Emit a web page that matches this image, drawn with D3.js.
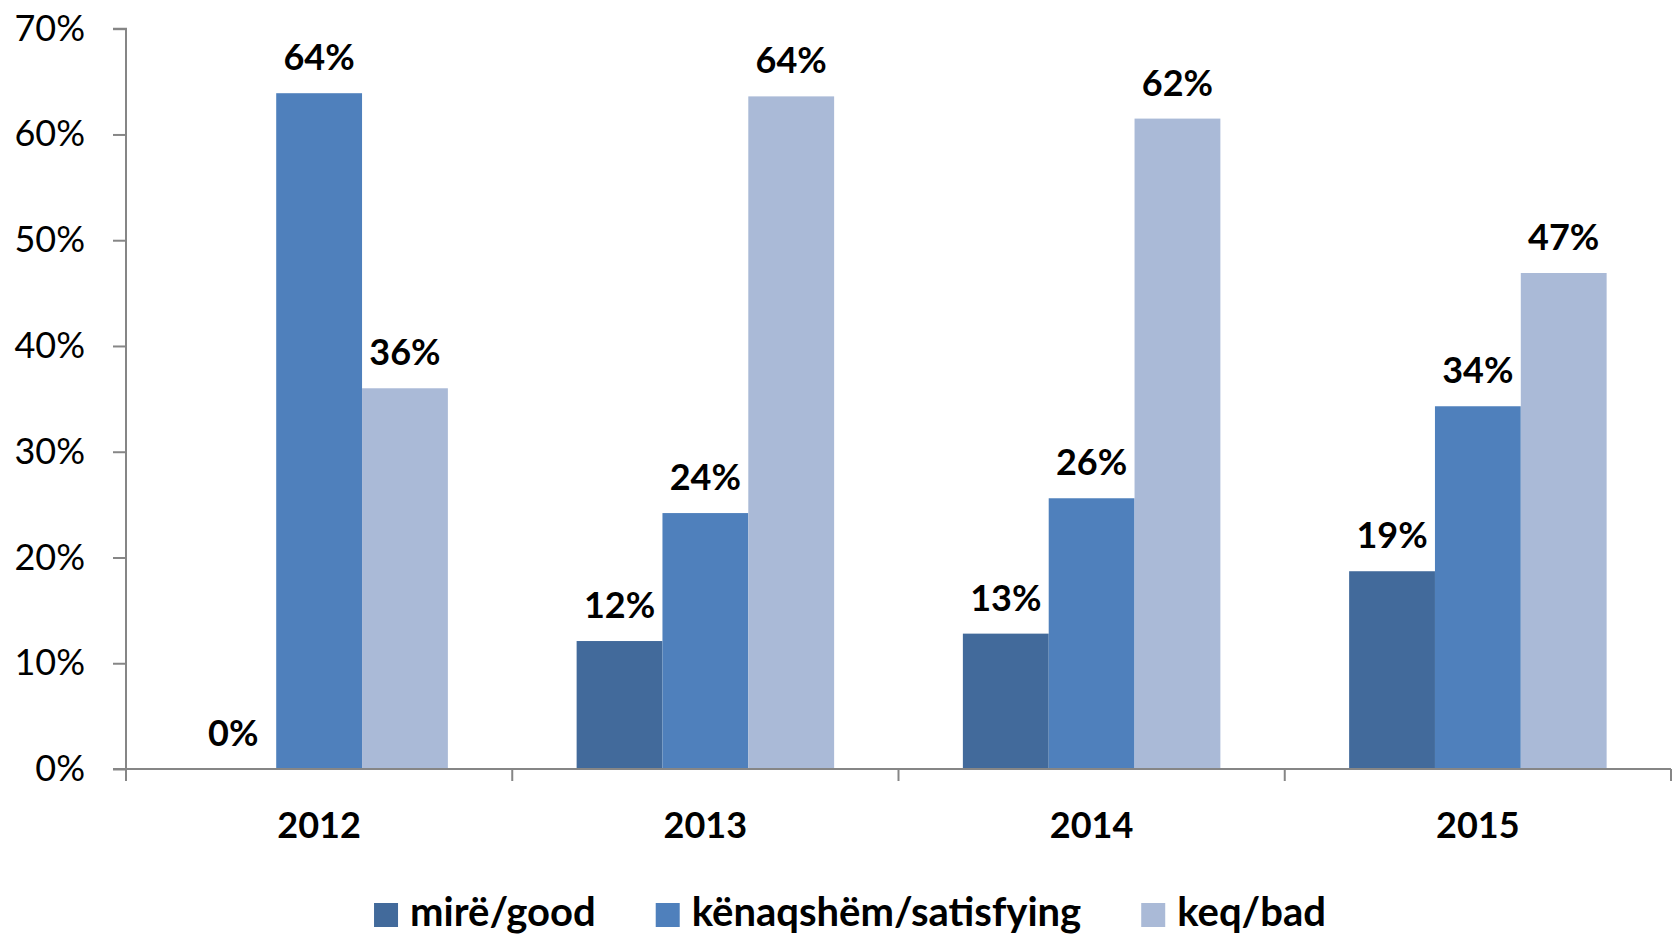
<!DOCTYPE html>
<html>
<head>
<meta charset="utf-8">
<script src="https://cdn.jsdelivr.net/npm/d3@7"></script>
<style>
  html, body { margin: 0; padding: 0; background: #fff; }
  svg { display: block; }
  text { font-family: Lato, "Open Sans", sans-serif; fill: #000; }
</style>
</head>
<body>
<svg id="chart" width="1674" height="935"></svg>
<script>
const categories = ["2012", "2013", "2014", "2015"];
const seriesNames = ["mirë/good", "kënaqshëm/satisfying", "keq/bad"];
const good = [0.0, 0.121, 0.128, 0.187];
const satisfying = [0.639, 0.242, 0.256, 0.343];
const bad = [0.360, 0.636, 0.615, 0.469];
const yTicks = [0, 0.1, 0.2, 0.3, 0.4, 0.5, 0.6, 0.7];
const colors = ["#426A9B", "#4F80BC", "#AABAD7"];

const seriesValues = [good, satisfying, bad];

const x0 = 126, x1end = 1671, yTop = 28.7, yBottom = 769;

const svg = d3.select("#chart");

const x = d3.scaleBand().domain(categories).range([x0, x1end]).padding(0);
const step = x.bandwidth();
const bw = step / 4.5;
const xs = d3.scaleBand().domain(seriesNames).range([bw * 0.75, step - bw * 0.75]).padding(0);
const y = d3.scaleLinear().domain([0, 0.7]).range([yBottom, yTop]);
const color = d3.scaleOrdinal().domain(seriesNames).range(colors);
const pct = d3.format(".0%");

// Y axis
const yAxis = svg.append("g")
  .attr("transform", `translate(${x0},0)`)
  .call(d3.axisLeft(y).tickValues(yTicks).tickFormat(pct).tickSize(13).tickPadding(28));
yAxis.select(".domain").attr("stroke", "#868686").attr("stroke-width", 2).attr("d", `M-13,${yTop}H0V${yBottom}`);
yAxis.selectAll(".tick line").attr("stroke", "#868686").attr("stroke-width", 2);
yAxis.selectAll(".tick text").attr("font-family", "Lato, sans-serif").attr("font-size", 36).attr("fill", "#000");

// X axis
const xAxisG = svg.append("g").attr("transform", `translate(0,${yBottom})`);
xAxisG.append("line").attr("x1", x0 - 13).attr("x2", x1end).attr("y1", 0).attr("y2", 0)
  .attr("stroke", "#868686").attr("stroke-width", 2);
const boundaries = categories.map(c => x(c)).concat([x1end]);
xAxisG.selectAll(".xtick").data(boundaries).join("line")
  .attr("x1", d => d).attr("x2", d => d).attr("y1", 0).attr("y2", 12)
  .attr("stroke", "#868686").attr("stroke-width", 2);
xAxisG.selectAll(".xlab").data(categories).join("text")
  .attr("x", d => x(d) + step / 2).attr("y", 69)
  .attr("text-anchor", "middle").attr("font-size", 36).attr("font-weight", "bold")
  .text(d => d);

// Bars
const data = [];
categories.forEach((c, i) => {
  seriesNames.forEach((s, j) => data.push({ cat: c, series: s, value: seriesValues[j][i] }));
});

svg.append("g").selectAll("rect").data(data).join("rect")
  .attr("x", d => x(d.cat) + xs(d.series))
  .attr("y", d => y(d.value))
  .attr("width", xs.bandwidth())
  .attr("height", d => yBottom - y(d.value))
  .attr("fill", d => color(d.series));

svg.append("line").attr("x1", x0).attr("x2", x1end).attr("y1", yBottom).attr("y2", yBottom)
  .attr("stroke", "#868686").attr("stroke-width", 2);

// Labels
svg.append("g").selectAll("text").data(data).join("text")
  .attr("x", d => x(d.cat) + xs(d.series) + xs.bandwidth() / 2)
  .attr("y", d => y(d.value) - 23)
  .attr("text-anchor", "middle").attr("font-size", 36).attr("font-weight", "bold")
  .text(d => pct(d.value));

// Legend
const legend = svg.append("g").attr("transform", "translate(0,913)");
const items = legend.selectAll("g").data(seriesNames).join("g");
items.append("rect").attr("width", 24).attr("height", 24).attr("y", -10).attr("fill", d => color(d));
items.append("text").attr("x", 36).attr("y", 13)
  .attr("font-size", 40).attr("font-weight", "bold").text(d => d);
let cx = 0;
const offsets = [];
items.each(function () {
  offsets.push(cx);
  const tw = d3.select(this).select("text").node().getComputedTextLength();
  cx += 36 + tw + 60;
});
const total = cx - 60;
const startX = 850 - total / 2;
items.attr("transform", (d, i) => `translate(${startX + offsets[i]},0)`);
</script>
</body>
</html>
